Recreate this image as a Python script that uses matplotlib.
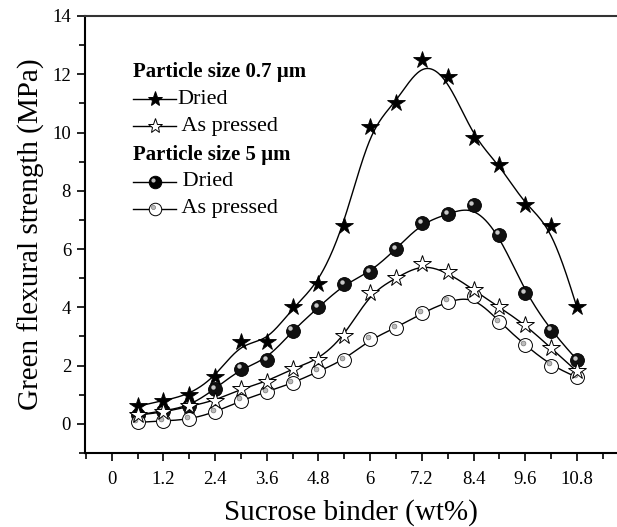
import numpy as np
import matplotlib
matplotlib.use('Agg')
import matplotlib.pyplot as plt
from matplotlib.transforms import offset_copy

# sucrose binder content (wt%)
binder = [0.6, 1.2, 1.8, 2.4, 3.0, 3.6, 4.2, 4.8, 5.4, 6.0,
          6.6, 7.2, 7.8, 8.4, 9.0, 9.6, 10.2, 10.8]

# green flexural strength (MPa)
dried_07 = [0.6, 0.8, 1.0, 1.6, 2.8, 2.8, 4.0, 4.8, 6.8, 10.2,
            11.0, 12.5, 11.9, 9.8, 8.9, 7.5, 6.8, 4.0]
pressed_07 = [0.3, 0.4, 0.6, 0.8, 1.2, 1.45, 1.9, 2.2, 3.0, 4.5,
              5.0, 5.5, 5.2, 4.6, 4.0, 3.4, 2.6, 1.8]
dried_5 = [0.3, 0.45, 0.6, 1.2, 1.9, 2.2, 3.2, 4.0, 4.8, 5.2,
           6.0, 6.9, 7.2, 7.5, 6.5, 4.5, 3.2, 2.2]
pressed_5 = [0.05, 0.1, 0.15, 0.4, 0.8, 1.1, 1.4, 1.8, 2.2, 2.9,
             3.3, 3.8, 4.2, 4.4, 3.5, 2.7, 2.0, 1.6]

xticks = [0, 1.2, 2.4, 3.6, 4.8, 6, 7.2, 8.4, 9.6, 10.8]
xtick_labels = ["0", "1.2", "2.4", "3.6", "4.8", "6", "7.2", "8.4", "9.6", "10.8"]

plt.rcParams['font.family'] = ['Liberation Serif', 'DejaVu Serif']


def bspline(x, y, n=30):
    # uniform cubic B-spline, ends clamped (like Origin's B-spline line)
    px = np.r_[x[0], x[0], x, x[-1], x[-1]]
    py = np.r_[y[0], y[0], y, y[-1], y[-1]]
    t = np.linspace(0, 1, n, endpoint=False)
    b0 = (1 - t) ** 3 / 6
    b1 = (3 * t ** 3 - 6 * t ** 2 + 4) / 6
    b2 = (-3 * t ** 3 + 3 * t ** 2 + 3 * t + 1) / 6
    b3 = t ** 3 / 6
    xs, ys = [], []
    for i in range(len(px) - 3):
        xs.append(b0 * px[i] + b1 * px[i + 1] + b2 * px[i + 2] + b3 * px[i + 3])
        ys.append(b0 * py[i] + b1 * py[i + 1] + b2 * py[i + 2] + b3 * py[i + 3])
    xs.append([x[-1]])
    ys.append([y[-1]])
    return np.concatenate(xs), np.concatenate(ys)


fig = plt.figure(figsize=(6.17, 5.27), dpi=100)
ax = fig.add_axes([85 / 617, 74 / 527, 532 / 617, 437 / 527])

lw = 1.0
hl = offset_copy(ax.transData, fig=fig, x=-2.2, y=2.2, units='dots')

# 0.7 um dried
sx, sy = bspline(binder, dried_07)
ax.plot(sx, sy, color='black', lw=lw, zorder=2)
ax.plot(binder, dried_07, ls='none', marker='*', ms=13, mfc='black',
        mec='black', mew=0.6, zorder=4)
# 0.7 um as pressed
sx, sy = bspline(binder, pressed_07)
ax.plot(sx, sy, color='black', lw=lw, zorder=2)
ax.plot(binder, pressed_07, ls='none', marker='*', ms=13, mfc='white',
        mec='black', mew=0.7, zorder=4)
# 5 um dried
sx, sy = bspline(binder, dried_5)
ax.plot(sx, sy, color='black', lw=lw, zorder=2)
ax.plot(binder, dried_5, ls='none', marker='o', ms=10, mfc='#111111',
        mec='black', mew=0.6, zorder=3)
ax.plot(binder, dried_5, ls='none', marker='o', ms=3.2, mfc='#c8c8c8',
        mec='none', transform=hl, zorder=3)
# 5 um as pressed
sx, sy = bspline(binder, pressed_5)
ax.plot(sx, sy, color='black', lw=lw, zorder=2)
ax.plot(binder, pressed_5, ls='none', marker='o', ms=10, mfc='white',
        mec='black', mew=0.7, zorder=3)
ax.plot(binder, pressed_5, ls='none', marker='o', ms=3.5, mfc='#bbbbbb',
        mec='#666666', mew=0.4, transform=hl, zorder=3)

ax.set_xlim(-0.62, 11.73)
ax.set_ylim(-1.0, 14.0)
ax.set_xticks(xticks)
ax.set_xticklabels(xtick_labels)
ax.set_xticks(np.arange(-0.6, 11.5, 1.2), minor=True)
ax.set_yticks(np.arange(0, 15, 2))
ax.set_yticks(np.arange(-1, 14, 2), minor=True)
ax.tick_params(axis='both', which='major', direction='out', length=6,
               width=1.2, labelsize=13.5)
ax.tick_params(axis='x', which='major', pad=7)
ax.tick_params(axis='y', which='major', pad=4)
ax.tick_params(axis='both', which='minor', direction='out', length=4, width=1.2)
for s in ['left', 'bottom', 'top']:
    ax.spines[s].set_linewidth(1.5)
ax.spines['right'].set_visible(False)
ax.spines['top'].set_color('#333333')

ax.set_xlabel("Sucrose binder (wt%)", fontsize=21, labelpad=8)
ax.set_ylabel("Green flexural strength (MPa)", fontsize=21, labelpad=5)

# hand-made legend (headings start flush with the handles)
T = ax.transAxes
def ax_xy(px, py):
    return (px - 85) / 532, (453 - py) / 437

rows = [
    ("Particle size 0.7 \u00b5m", None, 72),
    ("Dried", ('*', 'black'), 99),
    (" As pressed", ('*', 'white'), 126),
    ("Particle size 5 \u00b5m", None, 155),
    (" Dried", ('o', 'black'), 182),
    (" As pressed", ('o', 'white'), 209),
]
for label, mk, py in rows:
    if mk is None:
        x0, y0 = ax_xy(133, py)
        ax.text(x0, y0, label, transform=T, fontsize=15, fontweight='bold',
                va='center', ha='left')
        continue
    xa, y0 = ax_xy(133, py)
    xb, _ = ax_xy(176, py)
    xm, _ = ax_xy(154.5, py)
    ax.plot([xa, xb], [y0, y0], color='black', lw=lw, transform=T, clip_on=False)
    ms = 11 if mk[0] == '*' else 9
    ax.plot([xm], [y0], marker=mk[0], ms=ms, mfc=mk[1], mec='black', mew=0.7,
            transform=T, clip_on=False)
    if mk[0] == 'o':
        hlT = offset_copy(T, fig=fig, x=-2, y=2, units='dots')
        ax.plot([xm], [y0], marker='o', ms=3, mfc='#bbbbbb',
                mec='#666666' if mk[1] == 'white' else 'none', mew=0.4,
                transform=hlT, clip_on=False)
    xt, _ = ax_xy(177, py)
    ax.text(xt, y0, label, transform=T, fontsize=16, va='center', ha='left')

fig.savefig("out.png", dpi=100)
